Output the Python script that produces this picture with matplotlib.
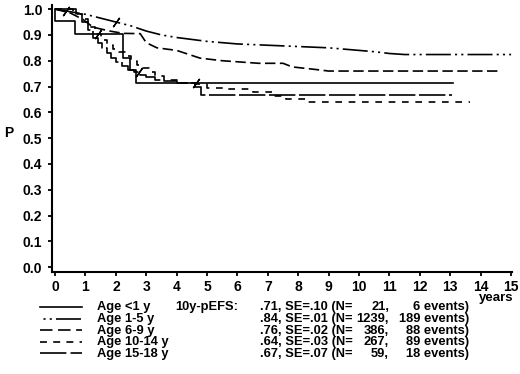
import matplotlib
matplotlib.use("Agg")
import matplotlib.pyplot as plt
from matplotlib.lines import Line2D
import numpy as np

plt.rcParams['font.family'] = ['Liberation Sans', 'DejaVu Sans']
plt.rcParams['font.weight'] = 'bold'
plt.rcParams['lines.scale_dashes'] = False

# Kaplan-Meier style pEFS curves by age group
t_lt1 = [0, 0, 0.66, 2.23, 2.45, 2.65, 13.1]
s_lt1 = [1.0, 0.955, 0.905, 0.81, 0.765, 0.715, 0.715]

t_1_5 = [0, 0.5, 1.0, 1.5, 2.0, 2.5, 3.0, 3.5, 4.0, 5.0, 6.0, 7.0, 8.0, 9.0,
         10.0, 10.5, 11.0, 11.5, 12.0, 15.0]
s_1_5 = [1.0, 0.99, 0.98, 0.965, 0.95, 0.935, 0.915, 0.9, 0.89, 0.875, 0.865,
         0.86, 0.855, 0.85, 0.84, 0.835, 0.828, 0.824, 0.824, 0.824]

t_6_9 = [0, 0.5, 0.92, 1.25, 1.8, 2.24, 2.8, 3.0, 3.35, 4.0, 4.77, 5.5, 6.7,
         7.5, 7.8, 8.5, 9.0, 10.0, 14.6]
s_6_9 = [1.0, 0.985, 0.96, 0.93, 0.915, 0.906, 0.905, 0.87, 0.85, 0.84, 0.81,
         0.80, 0.79, 0.79, 0.776, 0.767, 0.76, 0.76, 0.76]

t_10_14 = [0, 0.6, 0.9, 1.1, 1.3, 1.5, 1.7, 1.9, 2.1, 2.3, 2.5, 2.7, 2.9, 3.1,
           3.3, 3.6, 4.0, 4.6, 5.0, 5.6, 6.5, 7.2, 7.6, 8.3, 13.65]
s_10_14 = [1.0, 0.98, 0.96, 0.93, 0.905, 0.88, 0.86, 0.845, 0.835, 0.82, 0.80,
           0.785, 0.77, 0.755, 0.74, 0.725, 0.715, 0.71, 0.695, 0.69, 0.68,
           0.665, 0.65, 0.64, 0.64]

t_15_18 = [0, 0.7, 0.9, 1.1, 1.25, 1.4, 1.55, 1.7, 1.85, 2.0, 2.2, 2.4, 2.6,
           2.8, 3.0, 3.3, 3.6, 4.0, 4.6, 4.8, 13.05]
s_15_18 = [1.0, 0.98, 0.95, 0.92, 0.89, 0.87, 0.85, 0.83, 0.81, 0.795, 0.78,
           0.765, 0.755, 0.745, 0.735, 0.725, 0.72, 0.715, 0.7, 0.667, 0.667]

# censoring tick positions (years)
cens_lt1 = [4.65]
cens_1_5 = [0.35, 2.0]
cens_10_14 = [1.4]
cens_15_18 = [2.75]

labels = ["Age <1 y", "Age 1-5 y", "Age 6-9 y", "Age 10-14 y", "Age 15-18 y"]
pefs = [".71, SE=.10 (N=", ".84, SE=.01 (N=", ".76, SE=.02 (N=",
        ".64, SE=.03 (N=", ".67, SE=.07 (N="]
n_pat = [21, 1239, 386, 267, 59]
n_evt = [6, 189, 88, 89, 18]

styles = ['-', (0, (18, 3, 1.5, 3, 1.5, 3)), (0, (7.5, 3.2)), (0, (4.8, 4.8)),
          (0, (19, 2.6))]
legend_styles = ['-', (18.5, (18, 3, 1.5, 3, 1.5, 3)), (0, (9, 4)),
                 (0, (5, 4.5)), (0, (19, 3))]
curves = [(t_lt1, s_lt1, True, cens_lt1), (t_1_5, s_1_5, False, cens_1_5),
          (t_6_9, s_6_9, False, []), (t_10_14, s_10_14, True, cens_10_14),
          (t_15_18, s_15_18, True, cens_15_18)]

fig = plt.figure(figsize=(5.2, 3.74), dpi=100)
ax = fig.add_axes([52 / 520, 102 / 374, 460 / 520, 267 / 374])

for (t, s, step, cens), ls in zip(curves, styles):
    ax.plot(t, s, color='black', lw=1.2, linestyle=ls,
            drawstyle='steps-post' if step else 'default')
    if cens:
        t_arr = np.array(t)
        s_arr = np.array(s)
        if step:
            yc = [s_arr[np.searchsorted(t_arr, c, side='right') - 1] for c in cens]
        else:
            yc = np.interp(cens, t_arr, s_arr)
        ax.plot(cens, yc, linestyle='none', marker=(2, 2, -35), ms=8,
                mew=1.0, color='black')

ax.set_xlim(-0.1, 15.03)
ax.set_ylim(-0.019, 1.016)
ax.set_xticks(range(16))
ax.set_yticks(np.arange(0, 1.01, 0.1))
ax.set_yticklabels([f"{v:.1f}" for v in np.arange(0, 1.01, 0.1)])
for sp in ['top', 'right']:
    ax.spines[sp].set_visible(False)
for sp in ['left', 'bottom']:
    ax.spines[sp].set_linewidth(1.5)
ax.tick_params(direction='out', length=3, width=1.3, labelsize=10)
ax.tick_params(axis='y', pad=4)
ax.tick_params(axis='x', pad=2.5)

fig.text(4 / 520, 1 - 133 / 374, "P", fontsize=10, va='center', ha='left')
fig.text(513 / 520, 1 - 292 / 374, "years", fontsize=9.5, va='top', ha='right')

# legend block below the axes (text placed on a common baseline per row)
row_y = [307, 318.5, 330.2, 341.8, 353.4]
for i, lab in enumerate(labels):
    y = 1 - row_y[i] / 374
    yb = 1 - (row_y[i] + 3.4) / 374
    fig.add_artist(Line2D([40 / 520, 82 / 520], [y, y], color='black', lw=1.2,
                          linestyle=legend_styles[i]))
    fig.text(97 / 520, yb, lab, fontsize=9.3, va='baseline', ha='left')
    fig.text(260 / 520, yb, pefs[i], fontsize=9.3, va='baseline', ha='left')
    fig.text(389 / 520, yb, f"{n_pat[i]},", fontsize=9.3, va='baseline', ha='right')
    fig.text(469 / 520, yb, f"{n_evt[i]} events)", fontsize=9.3, va='baseline',
             ha='right')
fig.text(175 / 520, 1 - (row_y[0] + 3.4) / 374, "10y-pEFS:", fontsize=9.3,
         va='baseline', ha='left')

fig.savefig("out.png", dpi=100)
